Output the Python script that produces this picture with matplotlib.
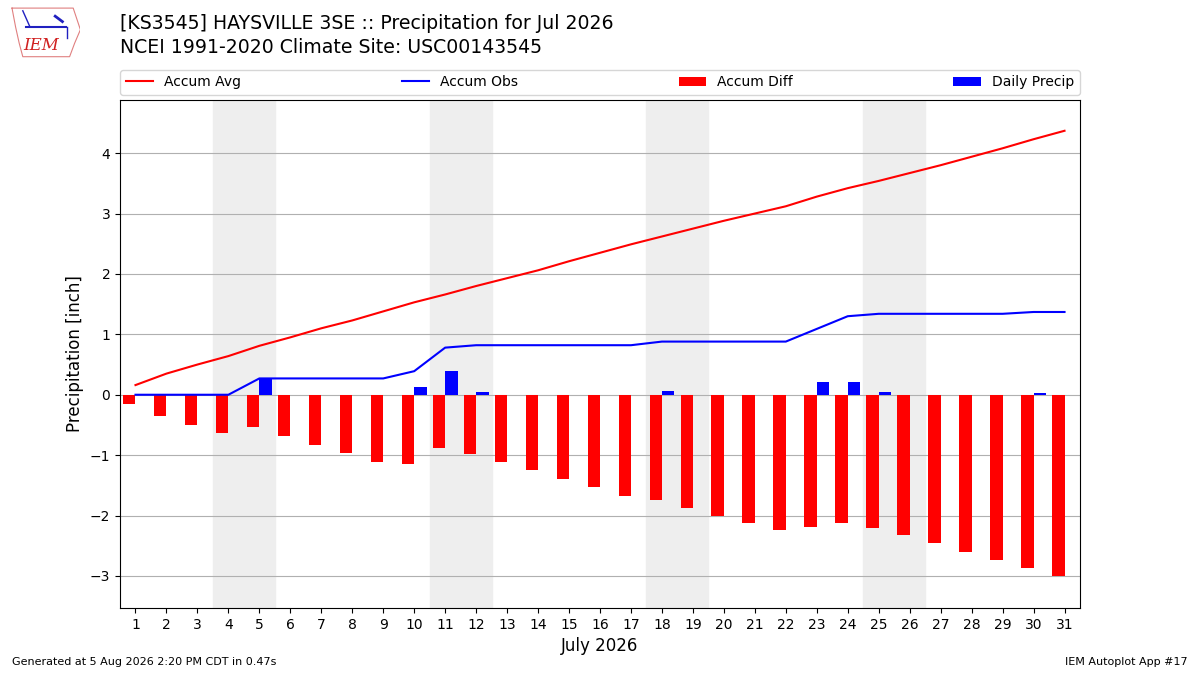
import numpy as np
import matplotlib
matplotlib.use("Agg")
import matplotlib.pyplot as plt

days = list(range(1, 32))
# daily observed precipitation (inch)
daily_precip = [0, 0, 0, 0, 0.27, 0, 0, 0, 0, 0.12, 0.39, 0.04, 0, 0, 0, 0,
                0, 0.06, 0, 0, 0, 0, 0.21, 0.21, 0.04, 0, 0, 0, 0, 0.03, 0]
# accumulated climatology (inch)
accum_avg = [0.16, 0.35, 0.50, 0.64, 0.81, 0.95, 1.10, 1.23, 1.38, 1.53,
             1.66, 1.80, 1.93, 2.06, 2.21, 2.35, 2.49, 2.62, 2.75, 2.88,
             3.00, 3.12, 3.28, 3.42, 3.54, 3.67, 3.80, 3.94, 4.08, 4.23, 4.37]
weekends = [(4, 5), (11, 12), (18, 19), (25, 26)]

accum_obs = np.cumsum(daily_precip)
accum_diff = accum_obs - np.array(accum_avg)

fig = plt.figure(figsize=(12, 6.75), dpi=100)
ax = fig.add_axes([0.1, 0.0993, 0.8, 0.7526])

for a, b in weekends:
    ax.axvspan(a - 0.5, b + 0.5, color="#eeeeee", zorder=0)

ax.plot(days, accum_avg, color="r", label="Accum Avg", zorder=3)
ax.plot(days, accum_obs, color="b", label="Accum Obs", zorder=3)
ax.bar(days, accum_diff, width=-0.4, align="edge", color="r",
       label="Accum Diff", zorder=2)
ax.bar(days, daily_precip, width=0.4, align="edge", color="b",
       label="Daily Precip", zorder=2)

ax.set_xlim(0.5, 31.5)
ax.set_ylim(-3.53, 4.88)
ax.set_xticks(days)
ax.grid(axis="y", color="#b0b0b0")
ax.set_axisbelow(True)
ax.set_ylabel("Precipitation [inch]", fontsize=12)
ax.set_xlabel("July 2026", fontsize=12)

ax.legend(loc="lower left", bbox_to_anchor=(0, 1.01, 1, 0.05), ncol=4,
          mode="expand", borderaxespad=0, fontsize=10)

fig.text(0.1, 0.965, "[KS3545] HAYSVILLE 3SE :: Precipitation for Jul 2026",
         fontsize=13.6, va="center")
fig.text(0.1, 0.930, "NCEI 1991-2020 Climate Site: USC00143545",
         fontsize=13.6, va="center")

fig.text(0.01, 0.015, "Generated at 5 Aug 2026 2:20 PM CDT in 0.47s", fontsize=8)
fig.text(0.99, 0.015, "IEM Autoplot App #17", fontsize=8, ha="right")

# rough logo
logo = fig.add_axes([0.007, 0.912, 0.060, 0.08])
logo.axis("off")
logo.set_xlim(0, 1)
logo.set_ylim(0, 1)
logo.plot([0.05, 0.9, 0.95, 1.0, 0.92, 0.85, 0.2, 0.15, 0.1, 0.05],
          [0.95, 0.95, 0.75, 0.55, 0.3, 0.05, 0.05, 0.3, 0.6, 0.95],
          color="#e08080", lw=0.8)
logo.text(0.2, 0.18, "IEM", color="#d02020", fontsize=12, family="serif",
          style="italic")
logo.plot([0.25, 0.8], [0.6, 0.6], color="#2020c0", lw=1.5)
logo.plot([0.2, 0.25, 0.3], [0.9, 0.75, 0.6], color="#2020c0", lw=1)
logo.plot([0.65, 0.75], [0.8, 0.7], color="#2020c0", lw=2)
logo.plot([0.82, 0.82], [0.6, 0.4], color="#2020c0", lw=1)

fig.savefig("out.png", dpi=100)
